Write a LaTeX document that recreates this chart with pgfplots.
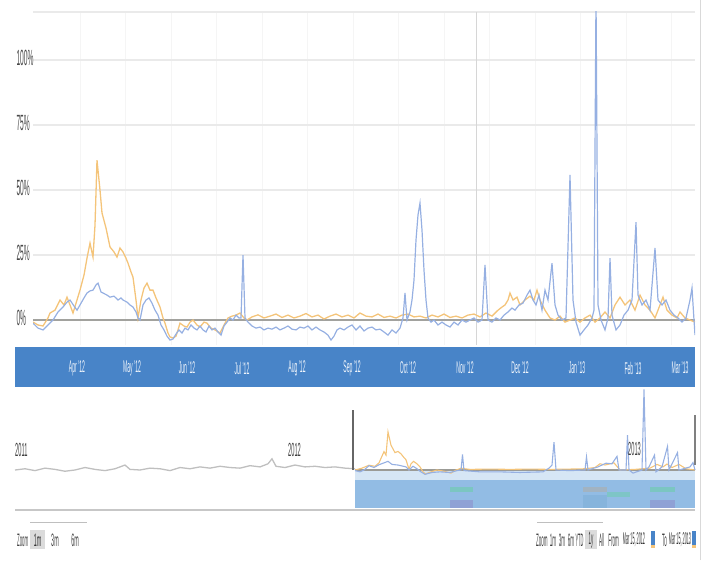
\documentclass[border=0pt]{standalone}
\usepackage{fontspec}
\setmainfont{Liberation Sans}
\usepackage{graphicx}
\usepackage{pgfplots}
\usepackage{pgfplotstable}
\pgfplotsset{compat=1.18}
\definecolor{ser1}{RGB}{244,196,122}
\definecolor{ser2}{RGB}{150,176,226}
\definecolor{basel}{RGB}{155,155,150}
\definecolor{bandblue}{RGB}{72,132,200}
\definecolor{navpale}{RGB}{214,230,245}
\definecolor{navfill}{RGB}{146,188,228}
\definecolor{gridc}{RGB}{234,234,234}
\newcommand\sq[2][18]{\scalebox{0.3}[1]{\fontsize{#1}{#1}\selectfont #2}}

\pgfplotstableread{
x y
33 -0.8
38 -1.9
43 -2.3
48 0.8
50 2.7
55 3.8
60 7.7
64 5.8
67 8.8
70 5.8
73 2.7
77 7.7
80 11.5
84 17.3
87 23.8
90 29.6
93 24.2
95 36.5
97 61.5
100 50
102 41.2
106 35.4
110 28.1
114 26.2
117 24.2
120 27.7
123 26.2
126 23.8
128 21.9
131 18.5
133 16.5
136 7.7
138 0.8
141 7.7
144 12.3
147 14.2
150 11.5
153 11.5
156 8.5
160 5
163 0.8
165 -1.2
168 -5
170 -6.5
173 -6.9
176 -6.2
178 -3.8
180 -1.2
184 -2.3
187 -2.7
190 -0.8
193 0
197 -1.9
200 -2.7
204 -0.8
207 -1.2
211 -3.1
215 -3.8
220 -5
224 -1.9
228 0.8
232 1.5
236 1.9
240 2.7
244 0.8
247 0
252 1.2
258 2.0
264 0.8
270 1.5
276 2.3
282 1.0
288 1.9
294 0.8
300 1.5
306 2.5
312 1.2
318 1.9
324 0.4
330 1.5
336 2.3
342 1.2
348 1.9
354 0.8
360 2.7
366 1.5
372 1.2
378 2.3
384 1.0
390 1.5
396 0.8
402 1.9
408 2.3
414 1.2
420 1.5
426 0.8
432 1.9
438 1.2
444 2.3
450 1.0
456 1.5
462 0.8
468 1.9
474 2.3
480 1.2
486 2.7
492 1.5
498 3.8
502 5
505 5.8
508 7.7
510 10.4
513 7.7
517 8.8
520 5.8
525 7.7
530 9.2
534 7.7
537 11.5
540 7.7
545 3.8
550 0.8
555 0
560 1.5
565 -0.8
570 0
575 0.8
580 -0.8
585 0.8
590 1.9
595 -0.8
600 0.8
605 3.1
610 0.8
615 5.8
620 8.8
625 5.8
630 7.7
635 3.8
640 9.6
645 5.8
650 3.8
655 0.8
660 5.8
663 8.8
667 3.8
672 1.9
677 0.8
680 3.1
685 0.8
690 0
695 -0.8
}\orangedata

\pgfplotstableread{
x y
33 -1.2
38 -3.1
43 -3.8
48 -1.9
53 0
58 3.1
63 5
67 6.9
70 7.7
74 5.4
77 3.8
80 5.8
84 8.5
87 10.4
90 11.2
93 11.5
96 13.5
98 14.2
101 10.8
103 10.4
107 9.6
110 8.8
114 9.2
118 7.7
121 8.5
123 7.7
127 6.9
130 5.8
133 5
136 3.1
138 0.8
140 0
143 5.8
146 7.7
149 8.5
152 6.5
155 3.8
158 1.9
161 -1.9
164 -3.8
167 -6.2
170 -7.7
173 -7.3
176 -5.4
179 -3.8
182 -5
185 -3.1
188 -3.8
191 -1.9
194 -3.1
197 -3.8
200 -2.3
203 -3.8
206 -4.6
209 -2.3
212 -3.8
215 -3.1
218 -4.6
221 -5.8
224 -2.3
227 -0.8
230 0.8
233 0
236 1.9
239 0.8
241 0.8
243 25
245 0.8
248 -0.8
252 -2.3
256 -3.1
260 -2.7
264 -3.8
268 -3.1
272 -3.5
276 -2.7
280 -3.8
284 -3.1
288 -2.3
292 -3.5
296 -3.8
300 -2.7
304 -3.1
308 -2.3
312 -3.8
316 -2.7
320 -3.8
324 -4.6
328 -5.8
331 -7.7
334 -6.2
337 -3.8
340 -3.1
344 -3.8
348 -2.7
352 -1.9
356 -3.8
360 -2.3
364 -4.2
368 -3.1
372 -2.7
376 -3.8
380 -3.5
384 -4.6
388 -5.8
392 -3.8
396 -5
400 -3.1
403 0.8
405 10.4
407 0
410 3.1
412 7.7
414 15.4
416 30.8
418 40.4
420 45
422 34.6
424 19.2
426 7.7
428 0.8
431 -0.8
434 0
438 -1.9
442 -0.8
446 -1.9
450 -2.7
454 -0.8
458 -1.9
462 0
466 -0.8
470 0
474 0.8
478 -0.8
482 0
485 21.2
488 0
492 -0.8
496 0.8
500 0
504 1.9
508 3.1
512 4.6
515 3.8
519 5.8
523 6.5
527 9.6
530 11.5
533 7.7
536 5.8
539 9.6
542 3.8
545 11.5
548 7.7
552 21.9
555 5.8
558 1.9
562 0
566 0.8
570 55.8
573 7.7
576 -0.8
580 -5.8
584 -3.8
588 -1.9
592 0.8
594 3.8
596 125
598 5.8
601 0
605 -3.8
608 0.8
610 23.8
612 1.9
616 -3.8
620 -1.9
624 1.9
628 3.8
632 7.7
636 37.7
638 9.6
642 5.8
646 7.7
650 3.8
655 27.7
658 7.7
662 5.8
666 7.7
670 3.8
674 1.9
678 0.8
682 -0.8
686 0.8
690 7.7
692 12.3
694 0
695 -5.8
}\bluedata

\pgfplotstableread{
x y
15 0
25 2
35 -1
45 3
55 1
65 -2
75 0
85 4
95 1
105 -1
115 2
125 8
130 1
140 0
150 3
160 2
170 -1
180 4
190 2
200 5
210 3
220 6
230 4
240 3
250 7
260 5
268 10
272 18
276 6
285 4
295 8
305 5
315 6
325 4
335 5
345 3
355 2
}\navgrey

\pgfplotstableread{
x y
355 0
362 3
369 7.7
375 6
379 11.5
384 29.6
386 24
388 61.5
391 40
395 28
398 30
401 26
404 20
406 16.5
409 1
411 10
413.5 14
417 10
420 5
423 -3
425.4 -6.5
431 -3
437 0
444 -2
451 -5
456 0
461 2.7
470 1
490 1.5
510 1
530 1.5
550 1
570 1.5
585 2
595 4
600 10
605 8
614 11.5
620 0
635 1
650 3
657 9
663 5
667 9.6
672 4
679 9
686 2
695 0
}\navorange

\pgfplotstableread{
x y
355 -1
360 -3
364 0
369 6.9
374 4
379 8.5
384 11.5
388 14
392 9
398 8
406 5
409 0
413 6
417 2
420 -2
425 -7
432 -4
440 -3
450 -4
457 -1
461 0
462.5 25
464 -1
480 -3
500 -3
520 -4
543 -3
549 3
552 8
554 45
556 0
570 -1
585 0
586.5 21
588 0
598 5
606 11
612 10
617 22
619 0
626 0
627.5 56
629 0
633 -5
642 0
644 130
646 0
649 5
654.5 24
656 -3
662 5
667.5 38
669 0
677.5 28
679 0
690 5
693 12
695 0
}\navblue

\begin{document}
\begin{tikzpicture}
\path[use as bounding box] (0pt,0pt) rectangle (707pt,560pt);

% main chart
\begin{axis}[
  at={(33pt,215pt)}, anchor=south west, scale only axis,
  width=662pt, height=333pt,
  xmin=33, xmax=695, ymin=-9.6, ymax=118.5,
  axis line style={draw=none}, major tick style={draw=none},
  ytick={0,25,50,75,100,118.5},
  yticklabels={\sq[22]{0\%},\sq[22]{25\%},\sq[22]{50\%},\sq[22]{75\%},\sq[22]{100\%},{}},
  yticklabel style={anchor=west, xshift=-20pt, yshift=2pt, text=black!72},
  xtick={80,125.5,...,695}, xticklabels={},
  ymajorgrids, xmajorgrids,
  every axis y grid/.append style={draw=gridc, line width=1.6pt},
  every axis x grid/.append style={draw=black!4, line width=0.6pt},
]
\addplot[black!16, line width=1pt] coordinates {(476,-9.6) (476,118.5)};
\addplot[basel, line width=2.2pt, opacity=0.9] coordinates {(33,0) (695,0)};
\addplot[ser1, line width=1.3pt] table[x=x,y=y] {\orangedata};
\addplot[ser2, line width=1.2pt] table[x=x,y=y] {\bluedata};
\end{axis}

% blue band with month labels
\begin{axis}[
  at={(15pt,173pt)}, anchor=south west, scale only axis,
  width=680pt, height=40pt,
  xmin=15, xmax=695, ymin=0, ymax=1,
  axis line style={draw=none}, major tick style={draw=none},
  ytick=\empty,
  axis background/.style={fill=bandblue},
  xtick={77,132,187,242,297,352,408,465,520,577,633,680},
  xticklabels={\sq[17]{Apr '12},\sq[17]{May '12},\sq[17]{Jun '12},\sq[17]{Jul '12},\sq[17]{Aug '12},\sq[17]{Sep '12},\sq[17]{Oct '12},\sq[17]{Nov '12},\sq[17]{Dec '12},\sq[17]{Jan '13},\sq[17]{Feb '13},\sq[17]{Mar '13}},
  xticklabel style={text=white!92!bandblue, anchor=center, yshift=19pt},
]
\addplot[draw=none] coordinates {(15,0) (695,1)};
\end{axis}

% navigator
\begin{axis}[
  at={(15pt,50pt)}, anchor=south west, scale only axis,
  width=680pt, height=120pt,
  xmin=15, xmax=695, ymin=-64.5, ymax=129,
  axis line style={draw=none}, major tick style={draw=none},
  xtick=\empty, ytick=\empty, clip=false,
]
\fill[navpale] (axis cs:355,-2) rectangle (axis cs:695,-16);
\fill[navfill] (axis cs:355,-16) rectangle (axis cs:695,-61);
\fill[green!25!navfill, opacity=0.6] (axis cs:450,-27) rectangle (axis cs:473,-35);
\fill[violet!20!navfill, opacity=0.7] (axis cs:450,-48) rectangle (axis cs:473,-61);
\fill[orange!25!navfill, opacity=0.6] (axis cs:583,-27) rectangle (axis cs:607,-35);
\fill[cyan!20!navfill, opacity=0.7] (axis cs:583,-40) rectangle (axis cs:607,-61);
\fill[green!22!navfill, opacity=0.6] (axis cs:607,-35) rectangle (axis cs:630,-43);
\fill[green!25!navfill, opacity=0.6] (axis cs:650,-27) rectangle (axis cs:675,-35);
\fill[violet!20!navfill, opacity=0.7] (axis cs:650,-48) rectangle (axis cs:675,-61);
\draw[black!22, line width=1.4pt] (axis cs:15,-64.5) -- (axis cs:695,-64.5);
\addplot[black!25, line width=1.3pt] table[x=x,y=y] {\navgrey};
\addplot[basel, line width=1.8pt] coordinates {(355,0) (695,0)};
\addplot[ser1, line width=1.1pt] table[x=x,y=y] {\navorange};
\addplot[ser2, line width=1.1pt] table[x=x,y=y] {\navblue};
\draw[black!60, line width=2pt] (axis cs:353,0) -- (axis cs:353,97);
\draw[black!50, line width=1.6pt] (axis cs:695,8) -- (axis cs:695,89);
\node[anchor=west, text=black!75, inner sep=0pt] at (axis cs:15,32) {\sq[19]{2011}};
\node[anchor=west, text=black!75, inner sep=0pt] at (axis cs:288,32) {\sq[19]{2012}};
\node[anchor=west, text=black!75, inner sep=0pt] at (axis cs:628,34) {\sq[19]{2013}};
\end{axis}

% range selector (left)
\draw[black!25] (30pt,38pt) -- (87pt,38pt);
\node[anchor=west, inner sep=0pt, text=black!75] at (17pt,20pt) {\scalebox{0.24}[1]{\fontsize{18}{18}\selectfont Zoom}};
\fill[black!14] (30pt,11pt) rectangle (45pt,30pt);
\node[inner sep=0pt, text=black!80] at (37.5pt,20pt) {\sq{1m}};
\node[inner sep=0pt, text=black!75] at (55pt,20pt) {\sq{3m}};
\node[inner sep=0pt, text=black!75] at (75pt,20pt) {\sq{6m}};

% range selector (right)
\draw[black!25] (537pt,38pt) -- (603pt,38pt);
\node[anchor=west, inner sep=0pt, text=black!75] at (536pt,20pt) {\scalebox{0.25}[1]{\fontsize{18}{18}\selectfont Zoom}};
\node[inner sep=0pt, text=black!75] at (553pt,20pt) {\scalebox{0.25}[1]{\fontsize{18}{18}\selectfont 1m}};
\node[inner sep=0pt, text=black!75] at (562pt,20pt) {\scalebox{0.25}[1]{\fontsize{18}{18}\selectfont 3m}};
\node[inner sep=0pt, text=black!75] at (571pt,20pt) {\scalebox{0.25}[1]{\fontsize{18}{18}\selectfont 6m}};
\node[inner sep=0pt, text=black!75] at (579.5pt,20pt) {\scalebox{0.22}[1]{\fontsize{18}{18}\selectfont YTD}};
\fill[black!14] (585pt,11pt) rectangle (597pt,30pt);
\node[inner sep=0pt, text=black!80] at (591pt,20pt) {\scalebox{0.25}[1]{\fontsize{18}{18}\selectfont 1y}};
\node[inner sep=0pt, text=black!75] at (601.5pt,20pt) {\scalebox{0.25}[1]{\fontsize{18}{18}\selectfont All}};
\node[inner sep=0pt, text=black!75] at (613.5pt,20pt) {\scalebox{0.25}[1]{\fontsize{18}{18}\selectfont From}};
\node[inner sep=0pt, text=black!80] at (634pt,20pt) {\scalebox{0.22}[1]{\fontsize{17}{17}\selectfont Mar 15, 2012}};
\fill[bandblue] (651pt,12pt) rectangle (655pt,29pt);
\fill[ser1] (651pt,12pt) rectangle (655pt,15pt);
\node[inner sep=0pt, text=black!75] at (664.5pt,20pt) {\scalebox{0.25}[1]{\fontsize{18}{18}\selectfont To}};
\node[inner sep=0pt, text=black!80] at (680pt,20pt) {\scalebox{0.22}[1]{\fontsize{17}{17}\selectfont Mar 15, 2013}};
\fill[bandblue] (692pt,12pt) rectangle (696pt,29pt);
\fill[ser1] (692pt,12pt) rectangle (696pt,15pt);

% right border
\draw[black!15, line width=1pt] (700pt,0pt) -- (700pt,560pt);
\end{tikzpicture}
\end{document}
